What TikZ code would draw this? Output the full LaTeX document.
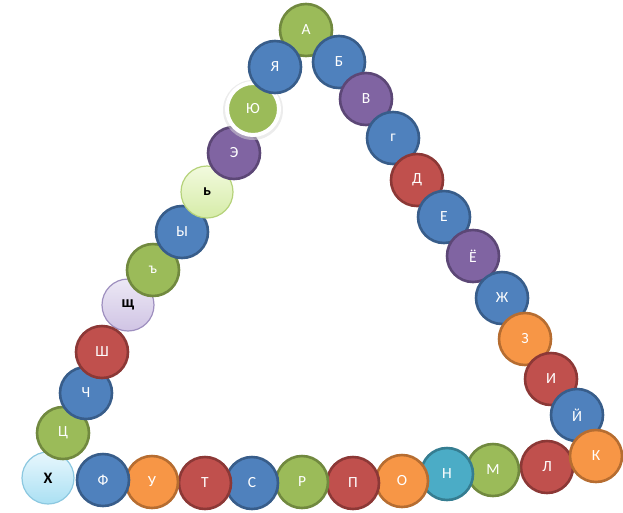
\documentclass[tikz,border=0pt]{standalone}
\usepackage{fontspec}
\setmainfont{Carlito}
\begin{document}
\begin{tikzpicture}[x=1pt,y=-1pt,
  bead/.style={circle,minimum size=52pt,inner sep=0pt,line width=2.6pt,font=\fontsize{15.5}{15.5}\selectfont,text=white},
  cblue/.style={bead,fill={rgb,255:red,79;green,129;blue,189},draw={rgb,255:red,56;green,93;blue,138}},
  cgreen/.style={bead,fill={rgb,255:red,155;green,187;blue,89},draw={rgb,255:red,113;green,137;blue,63}},
  cpurple/.style={bead,fill={rgb,255:red,128;green,100;blue,162},draw={rgb,255:red,92;green,71;blue,118}},
  cred/.style={bead,fill={rgb,255:red,192;green,80;blue,77},draw={rgb,255:red,140;green,56;blue,54}},
  corange/.style={bead,fill={rgb,255:red,247;green,150;blue,70},draw={rgb,255:red,182;green,109;blue,49}},
  cteal/.style={bead,fill={rgb,255:red,75;green,172;blue,198},draw={rgb,255:red,53;green,125;blue,145}},
  clblue/.style={bead,line width=1.2pt,top color={rgb,255:red,232;green,247;blue,253},bottom color={rgb,255:red,170;green,224;blue,243},draw={rgb,255:red,140;green,200;blue,224},text=black,font=\fontsize{16}{16}\selectfont\bfseries},
  clav/.style={bead,line width=1.2pt,top color={rgb,255:red,236;green,232;blue,245},bottom color={rgb,255:red,208;green,196;blue,228},draw={rgb,255:red,158;green,143;blue,191},text=black,font=\fontsize{16}{16}\selectfont\bfseries},
  clgreen/.style={bead,line width=1.2pt,top color={rgb,255:red,242;green,250;blue,222},bottom color={rgb,255:red,214;green,236;blue,168},draw={rgb,255:red,181;green,210;blue,122},text=black,font=\fontsize{16}{16}\selectfont\bfseries},
  cwring/.style={cgreen,draw=white,line width=4pt}
]
\useasboundingbox (0,0) rectangle (623,512);
\node[cgreen]  (a1)  at (306,30)  {А};
\node[cblue]   (a2)  at (339,62)  {Б};
\node[cpurple] (a3)  at (366,99)  {В};
\node[cblue]   (a4)  at (393,138) {г};
\node[cred]    (a5)  at (417,180) {Д};
\node[cblue]   (a6)  at (444,217) {Е};
\node[cpurple] (a7)  at (473,256) {Ё};
\node[cblue]   (a8)  at (502,298) {Ж};
\node[corange] (a9)  at (525,339) {З};
\node[cred]    (a10) at (551,379) {И};
\node[cblue]   (a11) at (577,415) {Й};
\node[cred]    (a13) at (547,467) {Л};
\node[corange] (a12) at (596,456) {К};
\node[cgreen]  (a14) at (493,470) {М};
\node[cteal]   (a15) at (447,474) {Н};
\node[corange] (a16) at (402,481) {О};
\node[cred]    (a17) at (353,483) {П};
\node[cgreen]  (a18) at (302,482) {Р};
\node[cblue]   (a19) at (252,483) {С};
\node[cred]    (a20) at (205,483) {Т};
\node[corange] (a21) at (152,482) {У};
\node[clblue]  (a23) at (48,478)  {Х};
\node[cblue]   (a22) at (103,480) {Ф};
\node[cgreen]  (a24) at (63,433)  {Ц};
\node[cblue]   (a25) at (86,393)  {Ч};
\node[clav]    (a27) at (128,305) {щ};
\node[cred]    (a26) at (102,352) {Ш};
\node[cgreen]  (a28) at (153,270) {ъ};
\node[cblue]   (a29) at (182,232) {Ы};
\node[clgreen] (a30) at (207,192) {ь};
\node[cpurple] (a31) at (234,153) {Э};
\fill[black!15,opacity=0.5] (253,110) circle (30pt);
\node[cwring]  (a32) at (253,109) {Ю};
\node[cblue]   (a33) at (275,67)  {Я};
\end{tikzpicture}
\end{document}
